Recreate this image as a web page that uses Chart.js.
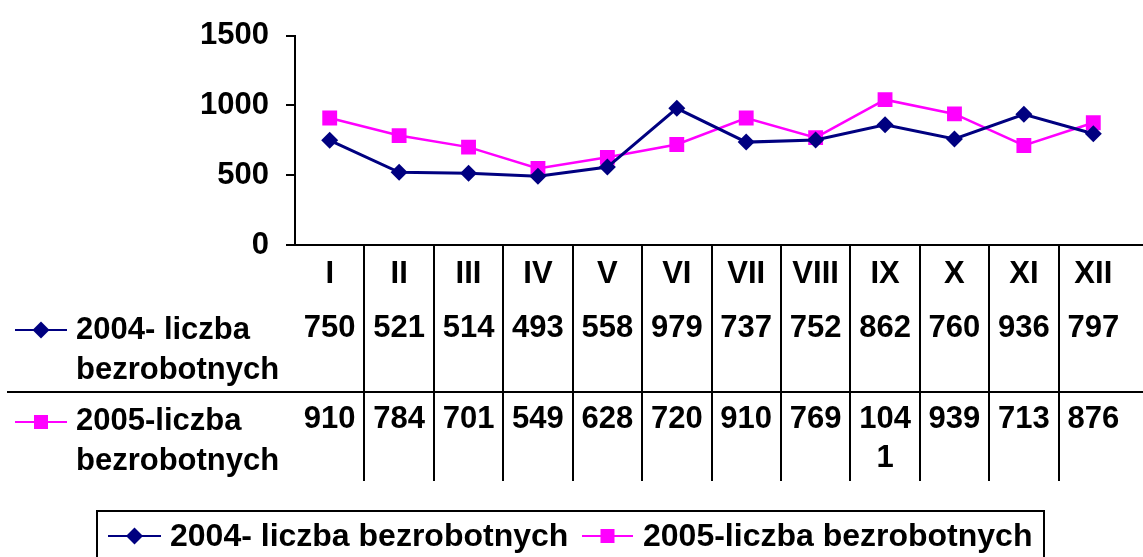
<!DOCTYPE html>
<html>
<head>
<meta charset="utf-8">
<script src="https://cdn.jsdelivr.net/npm/chart.js@4/dist/chart.umd.min.js"></script>
<style>
  body { margin: 0; background: #fff; }
  #canvas { display: block; }
</style>
</head>
<body>
<canvas id="canvas" width="1143" height="557"></canvas>
<script>
var months = ['I', 'II', 'III', 'IV', 'V', 'VI', 'VII', 'VIII', 'IX', 'X', 'XI', 'XII'];
var bezrobotni2004 = [750, 521, 514, 493, 558, 979, 737, 752, 862, 760, 936, 797];
var bezrobotni2005 = [910, 784, 701, 549, 628, 720, 910, 769, 1041, 939, 713, 876];
var label2004 = '2004- liczba bezrobotnych';
var label2005 = '2005-liczba bezrobotnych';
var yTicks = [0, 500, 1000, 1500];

var FAMILY = '"Liberation Sans", Arial, sans-serif';
var FONT = 'bold 31px ' + FAMILY;
var LEGEND_FONT = 'bold 32px ' + FAMILY;
var navy = '#000080';
var pink = '#FF00FF';

// little marker helper for the table keys and the legend
function marker(ctx, style, color, x, y) {
    ctx.fillStyle = color;
    ctx.beginPath();
    if (style == 'rectRot') {
        ctx.moveTo(x - 8.5, y);
        ctx.lineTo(x, y - 8.5);
        ctx.lineTo(x + 8.5, y);
        ctx.lineTo(x, y + 8.5);
        ctx.closePath();
    } else {
        ctx.rect(x - 7, y - 7, 14, 14);
    }
    ctx.fill();
}

function key(ctx, style, color, x1, x2, y, lw) {
    ctx.strokeStyle = color;
    ctx.lineWidth = lw;
    ctx.beginPath();
    ctx.moveTo(x1, y);
    ctx.lineTo(x2, y);
    ctx.stroke();
    marker(ctx, style, color, (x1 + x2) / 2, y);
}

// split a value into pieces that fit into one table cell (like 104 / 1)
function wrapCell(ctx, text, maxW) {
    var lines = [];
    var cur = '';
    for (var i = 0; i < text.length; i++) {
        if (cur && ctx.measureText(cur + text[i]).width > maxW) {
            lines.push(cur);
            cur = '';
        }
        cur += text[i];
    }
    lines.push(cur);
    return lines;
}

var dataTable = {
    id: 'dataTable',
    afterDraw: function (chart) {
        var ctx = chart.ctx;
        var xs = chart.scales.x;
        var bottom = chart.chartArea.bottom;
        var W = chart.width;
        var band = xs.getPixelForValue(1) - xs.getPixelForValue(0);

        ctx.save();
        ctx.strokeStyle = '#000';
        ctx.lineWidth = 2;

        // x axis line
        ctx.beginPath();
        ctx.moveTo(286, bottom);
        ctx.lineTo(W, bottom);
        ctx.stroke();

        // column separators
        for (var i = 0; i < months.length - 1; i++) {
            var sx = Math.round(xs.getPixelForValue(i) + band / 2);
            ctx.beginPath();
            ctx.moveTo(sx, bottom);
            ctx.lineTo(sx, 481);
            ctx.stroke();
        }

        // row separator
        ctx.beginPath();
        ctx.moveTo(7, 392);
        ctx.lineTo(W, 392);
        ctx.stroke();

        ctx.font = FONT;
        ctx.fillStyle = '#000';
        ctx.textAlign = 'center';
        ctx.textBaseline = 'middle';
        for (var j = 0; j < months.length; j++) {
            var cx = xs.getPixelForValue(j);
            ctx.fillText(months[j], cx, 274);

            ctx.fillText(String(bezrobotni2004[j]), cx, 328);

            var parts = wrapCell(ctx, String(bezrobotni2005[j]), band - 4);
            for (var k = 0; k < parts.length; k++) {
                ctx.fillText(parts[k], cx, 419 + k * 39);
            }
        }

        // row headers
        ctx.textAlign = 'left';
        ctx.fillText('2004- liczba', 76, 330);
        ctx.fillText('bezrobotnych', 76, 370);
        ctx.fillText('2005-liczba', 76, 421);
        ctx.fillText('bezrobotnych', 76, 461);
        key(ctx, 'rectRot', navy, 15, 67, 330, 2);
        key(ctx, 'rect', pink, 15, 67, 422, 2);

        // legend box at the bottom
        ctx.fillStyle = '#fff';
        ctx.strokeStyle = '#000';
        ctx.lineWidth = 2;
        ctx.fillRect(97, 511, 947, 60);
        ctx.strokeRect(97, 511, 947, 60);
        key(ctx, 'rectRot', navy, 108, 161, 536, 2);
        key(ctx, 'rect', pink, 582, 633, 536, 2);
        ctx.font = LEGEND_FONT;
        ctx.fillStyle = '#000';
        ctx.fillText(label2004, 170, 537);
        ctx.fillText(label2005, 643, 537);
        ctx.restore();
    }
};

var config = {
    type: 'line',
    data: {
        labels: months,
        datasets: [
            {
                label: label2004,
                data: bezrobotni2004,
                borderColor: navy,
                backgroundColor: navy,
                borderWidth: 3,
                pointStyle: 'rectRot',
                pointRadius: 8.5,
                pointBorderWidth: 0,
                tension: 0
            },
            {
                label: label2005,
                data: bezrobotni2005,
                borderColor: pink,
                backgroundColor: pink,
                borderWidth: 2.5,
                pointStyle: 'rect',
                pointRadius: 10.5,
                pointBorderWidth: 0,
                tension: 0
            }
        ]
    },
    options: {
        responsive: false,
        animation: false,
        layout: { padding: { left: 0, top: 32, right: 15, bottom: 312 } },
        plugins: {
            legend: { display: false },
            tooltip: { enabled: false }
        },
        scales: {
            x: {
                type: 'category',
                offset: true,
                display: false
            },
            y: {
                min: yTicks[0],
                max: yTicks[yTicks.length - 1],
                afterFit: function (s) { s.width = 295; },
                afterBuildTicks: function (s) {
                    s.ticks = yTicks.map(function (v) { return { value: v }; });
                },
                ticks: {
                    color: '#000',
                    padding: 17,
                    font: { family: FAMILY, size: 31, weight: 'bold' },
                    callback: function (v) { return String(v); }
                },
                grid: {
                    drawOnChartArea: false,
                    color: '#000',
                    lineWidth: 2,
                    tickLength: 9
                },
                border: { color: '#000', width: 2 }
            }
        }
    },
    plugins: [dataTable]
};

function start() {
    var ctx = document.getElementById('canvas').getContext('2d');
    new Chart(ctx, config);
}
start();
</script>
</body>
</html>
